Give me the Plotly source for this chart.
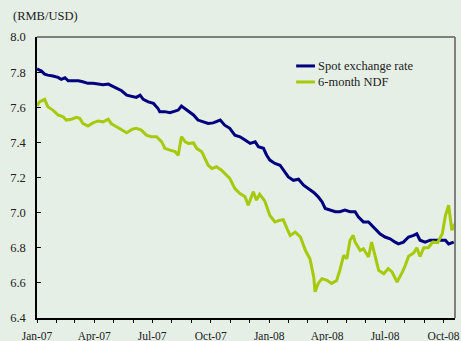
import plotly.graph_objects as go

# RMB per USD: onshore spot rate and 6-month non-deliverable forward
spot_dates = [
    "2007-01-01", "2007-01-08", "2007-01-13", "2007-01-18", "2007-01-26", "2007-02-03",
    "2007-02-08", "2007-02-14", "2007-02-19", "2007-02-27", "2007-03-07", "2007-03-14",
    "2007-03-22", "2007-03-30", "2007-04-07", "2007-04-15", "2007-04-23", "2007-04-28",
    "2007-05-06", "2007-05-14", "2007-05-22", "2007-05-30", "2007-06-06", "2007-06-12",
    "2007-06-17", "2007-06-25", "2007-07-03", "2007-07-10", "2007-07-13", "2007-07-21",
    "2007-07-29", "2007-08-06", "2007-08-11", "2007-08-16", "2007-08-22", "2007-08-27",
    "2007-09-04", "2007-09-11", "2007-09-19", "2007-09-27", "2007-10-05", "2007-10-16",
    "2007-10-23", "2007-10-31", "2007-11-08", "2007-11-16", "2007-11-24", "2007-12-02",
    "2007-12-10", "2007-12-15", "2007-12-23", "2007-12-28", "2008-01-02", "2008-01-10",
    "2008-01-18", "2008-01-23", "2008-01-31", "2008-02-08", "2008-02-16", "2008-02-24",
    "2008-03-03", "2008-03-11", "2008-03-18", "2008-03-24", "2008-03-29", "2008-04-06",
    "2008-04-14", "2008-04-21", "2008-04-29", "2008-05-07", "2008-05-15", "2008-05-20",
    "2008-05-28", "2008-06-05", "2008-06-13", "2008-06-21", "2008-06-23", "2008-07-01",
    "2008-07-09", "2008-07-17", "2008-07-22", "2008-07-30", "2008-08-07", "2008-08-15",
    "2008-08-20", "2008-08-25", "2008-09-02", "2008-09-10", "2008-09-18", "2008-09-26",
    "2008-10-04", "2008-10-09", "2008-10-17",
]
spot_rate = [
    7.818, 7.806, 7.789, 7.783, 7.778, 7.770,
    7.759, 7.768, 7.751, 7.751, 7.751, 7.745,
    7.736, 7.736, 7.732, 7.728, 7.732, 7.722,
    7.708, 7.694, 7.669, 7.660, 7.656, 7.669,
    7.645, 7.631, 7.622, 7.594, 7.575, 7.575,
    7.569, 7.578, 7.584, 7.607, 7.590, 7.575,
    7.556, 7.527, 7.517, 7.508, 7.511, 7.527,
    7.498, 7.480, 7.441, 7.432, 7.413, 7.394,
    7.403, 7.375, 7.366, 7.327, 7.299, 7.280,
    7.270, 7.242, 7.203, 7.184, 7.190, 7.156,
    7.137, 7.115, 7.090, 7.061, 7.024, 7.014,
    7.005, 7.005, 7.014, 7.005, 7.005, 6.976,
    6.947, 6.947, 6.918, 6.889, 6.879, 6.861,
    6.851, 6.832, 6.822, 6.832, 6.861, 6.870,
    6.879, 6.843, 6.832, 6.843, 6.843, 6.843,
    6.843, 6.822, 6.832,
]

ndf_dates = [
    "2007-01-01", "2007-01-05", "2007-01-13", "2007-01-18", "2007-01-26", "2007-02-03",
    "2007-02-11", "2007-02-16", "2007-02-24", "2007-03-04", "2007-03-09", "2007-03-14",
    "2007-03-22", "2007-03-30", "2007-04-07", "2007-04-15", "2007-04-23", "2007-04-28",
    "2007-05-06", "2007-05-14", "2007-05-22", "2007-05-30", "2007-06-06", "2007-06-14",
    "2007-06-22", "2007-06-30", "2007-07-08", "2007-07-16", "2007-07-21", "2007-07-29",
    "2007-08-06", "2007-08-11", "2007-08-16", "2007-08-22", "2007-08-27", "2007-09-04",
    "2007-09-09", "2007-09-17", "2007-09-22", "2007-09-27", "2007-10-03", "2007-10-10",
    "2007-10-18", "2007-10-23", "2007-10-31", "2007-11-08", "2007-11-16", "2007-11-24",
    "2007-11-29", "2007-12-07", "2007-12-12", "2007-12-17", "2007-12-25", "2008-01-02",
    "2008-01-10", "2008-01-18", "2008-01-23", "2008-01-29", "2008-02-03", "2008-02-11",
    "2008-02-19", "2008-02-27", "2008-03-05", "2008-03-11", "2008-03-13", "2008-03-18",
    "2008-03-24", "2008-04-01", "2008-04-08", "2008-04-16", "2008-04-21", "2008-04-27",
    "2008-05-02", "2008-05-07", "2008-05-12", "2008-05-15", "2008-05-23", "2008-05-28",
    "2008-06-05", "2008-06-10", "2008-06-16", "2008-06-21", "2008-06-29", "2008-07-06",
    "2008-07-12", "2008-07-20", "2008-07-28", "2008-08-02", "2008-08-07", "2008-08-15",
    "2008-08-20", "2008-08-25", "2008-08-31", "2008-09-07", "2008-09-14", "2008-09-22",
    "2008-09-29", "2008-10-04", "2008-10-09", "2008-10-14", "2008-10-19",
]
ndf_rate = [
    7.607, 7.631, 7.645, 7.603, 7.584, 7.556,
    7.546, 7.527, 7.532, 7.543, 7.537, 7.508,
    7.493, 7.511, 7.522, 7.517, 7.532, 7.505,
    7.489, 7.470, 7.455, 7.474, 7.480, 7.470,
    7.441, 7.432, 7.432, 7.403, 7.366, 7.356,
    7.347, 7.327, 7.432, 7.403, 7.394, 7.397,
    7.366, 7.347, 7.308, 7.270, 7.251, 7.261,
    7.242, 7.222, 7.195, 7.137, 7.109, 7.090,
    7.042, 7.119, 7.071, 7.105, 7.066, 6.984,
    6.947, 6.957, 6.960, 6.909, 6.870, 6.889,
    6.861, 6.784, 6.737, 6.633, 6.549, 6.597,
    6.624, 6.614, 6.597, 6.614, 6.672, 6.757,
    6.737, 6.843, 6.870, 6.832, 6.784, 6.794,
    6.747, 6.832, 6.747, 6.672, 6.652, 6.681,
    6.662, 6.605, 6.660, 6.700, 6.752, 6.770,
    6.800, 6.750, 6.800, 6.800, 6.832, 6.830,
    6.880, 6.984, 7.042, 6.900, 6.937,
]

series_names = ["Spot exchange rate", "6-month NDF"]
series_colors = ["#00007f", "#a6c90a"]

tick_dates = ["2007-01-01", "2007-04-01", "2007-07-01", "2007-10-01",
              "2008-01-01", "2008-04-01", "2008-07-01", "2008-10-01"]
tick_text = ["Jan-07", "Apr-07", "Jul-07", "Oct-07",
             "Jan-08", "Apr-08", "Jul-08", "Oct-08"]
y_ticks = [6.4, 6.6, 6.8, 7.0, 7.2, 7.4, 7.6, 7.8, 8.0]

font_family = "Liberation Serif, Times New Roman, serif"
text_color = "#222222"
bg = "#e5efe6"

fig = go.Figure()
for name, dates, vals, color in zip(series_names, [spot_dates, ndf_dates],
                                    [spot_rate, ndf_rate], series_colors):
    fig.add_trace(go.Scatter(x=dates, y=vals, mode="lines", name=name,
                             line=dict(color=color, width=3), showlegend=False))

# Hand-drawn legend: short line swatch followed by the series name
legend_rows = [0.897, 0.840]
for name, color, yy in zip(series_names, series_colors, legend_rows):
    fig.add_shape(type="line", xref="paper", yref="paper",
                  x0=0.620, x1=0.665, y0=yy, y1=yy,
                  line=dict(color=color, width=3))
    fig.add_annotation(x=0.668, y=yy, xref="paper", yref="paper", text=name,
                       showarrow=False, xanchor="left", yanchor="middle",
                       font=dict(family=font_family, size=12.5, color=text_color))

# Grey frame on the top and right sides of the plot area
fig.add_shape(type="line", xref="paper", yref="paper", x0=0, x1=1, y0=1, y1=1,
              line=dict(color="#7f7f7f", width=2))
fig.add_shape(type="line", xref="paper", yref="paper", x0=1, x1=1, y0=0, y1=1,
              line=dict(color="#7f7f7f", width=2))

fig.add_annotation(x=0, y=1, xref="paper", yref="paper", text="(RMB/USD)",
                   showarrow=False, xanchor="left", yanchor="middle",
                   xshift=-26, yshift=21,
                   font=dict(family=font_family, size=12.5, color=text_color))

fig.update_layout(
    width=461, height=341,
    margin=dict(l=37, r=6, t=37, b=23),
    paper_bgcolor=bg, plot_bgcolor=bg,
    font=dict(family=font_family, size=12, color=text_color),
    xaxis=dict(
        range=["2007-01-01", "2008-10-19"],
        tickvals=tick_dates, ticktext=tick_text,
        ticks="outside", ticklen=3, tickcolor="#000000",
        minor=dict(ticks="outside", dtick="M1", tick0="2007-01-01",
                   ticklen=3, tickcolor="#000000", showgrid=False),
        showline=True, linecolor="#000000", linewidth=1.5,
        showgrid=False, zeroline=False,
        tickfont=dict(size=11.5),
        ticklabelstandoff=3,
        automargin=False,
    ),
    yaxis=dict(
        range=[6.4, 8.0],
        tickvals=y_ticks, tickformat=".1f",
        ticks="inside", ticklen=4, tickcolor="#000000",
        showline=True, linecolor="#000000", linewidth=1.5,
        showgrid=False, zeroline=False,
        tickfont=dict(size=12.5),
        ticklabelstandoff=7,
        automargin=False,
    ),
)

fig.write_html("out.html")
